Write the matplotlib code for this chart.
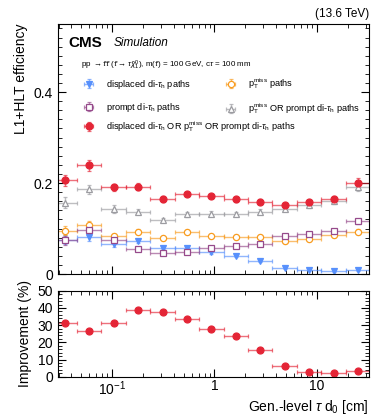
import numpy as np
import matplotlib
matplotlib.use("Agg")
import matplotlib.pyplot as plt
from matplotlib.ticker import FixedLocator, FuncFormatter, MultipleLocator, LogLocator, NullFormatter

plt.rcParams['font.family'] = ['Liberation Sans', 'DejaVu Sans']
plt.rcParams['mathtext.fontset'] = 'custom'
plt.rcParams['mathtext.rm'] = 'Liberation Sans'
plt.rcParams['mathtext.it'] = 'Liberation Sans:italic'
plt.rcParams['mathtext.bf'] = 'Liberation Sans:bold'

# bin edges in gen-level tau d0 [cm] (log spaced, 13 bins)
bin_edges = np.array([0.0262, 0.0454, 0.0787, 0.1364, 0.2363, 0.4095, 0.7096,
                      1.2297, 2.1309, 3.6926, 6.3987, 11.088, 19.214, 33.30])

# efficiencies per bin
eff_displaced = [0.075, 0.081, 0.065, 0.0725, 0.058, 0.0565, 0.0476, 0.0396, 0.029, 0.0139, 0.0088, 0.0066, 0.0088]
err_displaced = [0.010, 0.008, 0.005, 0.004, 0.004, 0.004, 0.004, 0.003, 0.003, 0.002, 0.002, 0.002, 0.002]
eff_met = [0.095, 0.107, 0.0835, 0.093, 0.0785, 0.093, 0.0835, 0.0806, 0.0806, 0.0725, 0.077, 0.0857, 0.093]
err_met = [0.010, 0.010, 0.005, 0.005, 0.004, 0.004, 0.004, 0.004, 0.004, 0.004, 0.004, 0.004, 0.006]
eff_prompt = [0.0747, 0.0967, 0.0747, 0.054, 0.0455, 0.0476, 0.058, 0.061, 0.0667, 0.0835, 0.087, 0.095, 0.116]
err_prompt = [0.010, 0.010, 0.005, 0.004, 0.004, 0.004, 0.004, 0.004, 0.004, 0.004, 0.004, 0.004, 0.006]
eff_met_prompt = [0.157, 0.186, 0.143, 0.137, 0.119, 0.131, 0.133, 0.132, 0.137, 0.143, 0.151, 0.160, 0.192]
err_met_prompt = [0.012, 0.010, 0.008, 0.006, 0.005, 0.005, 0.005, 0.005, 0.005, 0.005, 0.005, 0.006, 0.010]
eff_all = [0.2066, 0.2396, 0.1905, 0.192, 0.165, 0.176, 0.172, 0.164, 0.159, 0.152, 0.1575, 0.165, 0.2007]
err_all = [0.012, 0.012, 0.008, 0.008, 0.006, 0.005, 0.005, 0.005, 0.005, 0.005, 0.005, 0.007, 0.010]

# improvement of the full OR w.r.t. pTmiss OR prompt [%]
improvement = [31.0, 26.7, 31.0, 39.0, 37.4, 33.4, 27.9, 23.7, 15.7, 6.2, 2.7, 2.2, 3.1]

centers = np.sqrt(bin_edges[:-1] * bin_edges[1:])
xerr = [centers - bin_edges[:-1], bin_edges[1:] - centers]

c_blue = '#5790fc'
c_orange = '#f89c20'
c_red = '#e42536'
c_purple = '#964a8b'
c_gray = '#9c9ca1'

fig = plt.figure(figsize=(3.89, 4.19), dpi=100)
ax = fig.add_axes([0.149, 0.346, 0.800, 0.597])
axr = fig.add_axes([0.149, 0.101, 0.800, 0.205], sharex=ax)

def draw(a, y, yerr, color, marker, filled, label, ms=4.5):
    return a.errorbar(centers, y, xerr=xerr, yerr=yerr, fmt=marker, color=color,
                      ecolor=matplotlib.colors.to_rgba(color, 0.65), elinewidth=1.0,
                      capsize=1.2, capthick=0.8, ms=ms,
                      mfc=color if filled else 'white', mec=color, mew=0.9, label=label)

h_disp = draw(ax, eff_displaced, err_displaced, c_blue, 'v', True, r'displaced di-$\tau_{\mathrm{h}}$ paths')
h_met = draw(ax, eff_met, err_met, c_orange, 'o', False, r'$\mathrm{p}_{\mathrm{T}}^{\mathrm{miss}}$ paths')
h_prompt = draw(ax, eff_prompt, err_prompt, c_purple, 's', False, r'prompt di-$\tau_{\mathrm{h}}$ paths')
h_mp = draw(ax, eff_met_prompt, err_met_prompt, c_gray, '^', False,
            r'$\mathrm{p}_{\mathrm{T}}^{\mathrm{miss}}$ OR prompt di-$\tau_{\mathrm{h}}$ paths')
h_all = draw(ax, eff_all, err_all, c_red, 'o', True,
             r'displaced di-$\tau_{\mathrm{h}}$ OR $\mathrm{p}_{\mathrm{T}}^{\mathrm{miss}}$ OR prompt di-$\tau_{\mathrm{h}}$ paths',
             ms=5)

draw(axr, improvement, None, c_red, 'o', True, None, ms=5)

for a in (ax, axr):
    a.set_xscale('log')
    a.set_xlim(0.0296, 32.5)
    a.tick_params(which='both', direction='in', top=True, right=True, labelsize=10)
    a.tick_params(which='major', length=6, width=0.8)
    a.tick_params(which='minor', length=3, width=0.6)
    a.xaxis.set_major_locator(FixedLocator([0.1, 1, 10]))
    a.xaxis.set_minor_locator(LogLocator(base=10, subs=np.arange(2, 10), numticks=20))
    a.xaxis.set_minor_formatter(NullFormatter())
    for s in a.spines.values():
        s.set_linewidth(0.8)

ax.set_ylim(0, 0.55)
ax.yaxis.set_major_locator(FixedLocator([0, 0.2, 0.4]))
ax.yaxis.set_major_formatter(FuncFormatter(lambda v, p: '0' if v == 0 else f'{v:.1f}'))
ax.yaxis.set_minor_locator(MultipleLocator(0.02))
ax.tick_params(axis='x', labelbottom=False)
ax.set_ylabel('L1+HLT efficiency', loc='top', fontsize=10)

axr.set_ylim(0, 50)
axr.yaxis.set_major_locator(MultipleLocator(10))
axr.yaxis.set_minor_locator(MultipleLocator(2))
axr.xaxis.set_major_formatter(FuncFormatter(
    lambda v, p: r'$10^{-1}$' if abs(v - 0.1) < 1e-6 else f'{v:g}'))
axr.tick_params(axis='x', pad=2)
axr.set_ylabel('Improvement (%)', fontsize=10)
axr.set_xlabel(r'Gen.-level $\tau$ d$_{0}$ [cm]', loc='right', fontsize=10, labelpad=0)

ax.text(1.0, 1.015, '(13.6 TeV)', transform=ax.transAxes, ha='right', va='bottom', fontsize=8.5)
ax.text(0.035, 0.925, 'CMS', transform=ax.transAxes, ha='left', va='center',
        fontsize=11, fontweight='bold')
ax.text(0.18, 0.925, 'Simulation', transform=ax.transAxes, ha='left', va='center',
        fontsize=8.5, style='italic')
ax.text(0.075, 0.835,
        r'pp $\rightarrow \tilde{\tau}\tilde{\tau}$ ($\tilde{\tau} \rightarrow \tau\tilde{\chi}^{0}_{1}$), '
        r'm($\tilde{\tau}$) = 100 GeV, c$\tau$ = 100 mm',
        transform=ax.transAxes, ha='left', va='center', fontsize=5.8)

leg_kw = dict(frameon=False, fontsize=6.6, handlelength=1.8, handletextpad=1.0,
              borderpad=0, borderaxespad=0)
# column-major filling: first column displaced + prompt, second column pTmiss + OR
leg1 = ax.legend([h_disp, h_prompt, h_met, h_mp],
                 [h_disp.get_label(), h_prompt.get_label(), h_met.get_label(), h_mp.get_label()],
                 ncol=2, loc='upper left', bbox_to_anchor=(0.072, 0.79),
                 columnspacing=3.4, labelspacing=1.1, **leg_kw)
ax.add_artist(leg1)
ax.legend([h_all], [h_all.get_label()], loc='upper left', bbox_to_anchor=(0.072, 0.62), **leg_kw)

fig.savefig('out.png', dpi=100)
